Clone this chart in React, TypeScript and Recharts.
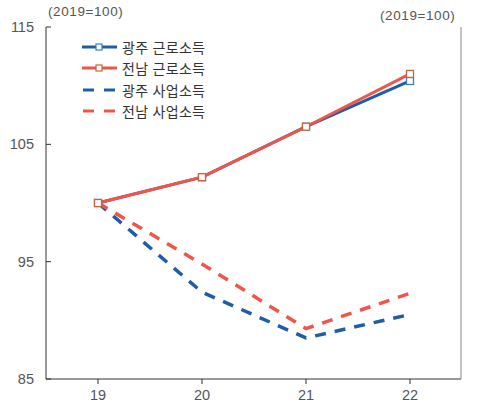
import { LineChart, Line, XAxis, YAxis } from 'recharts'

const years = ['19', '20', '21', '22']
const gjWage = [100, 102.2, 106.5, 110.4]
const jnWage = [100, 102.2, 106.5, 111.0]
const gjBiz = [100, 92.4, 88.5, 90.5]
const jnBiz = [100, 94.8, 89.3, 92.3]
const yTicks = [85, 95, 105, 115]

const BLUE = '#1f5da6'
const RED = '#f0554a'
const FONT = '"Liberation Sans", "Noto Sans CJK KR", sans-serif'
const TICK = { fontSize: 14.5, fill: '#555', fontFamily: FONT }

const data = years.map((y, i) => ({
  year: y,
  gjWage: gjWage[i],
  jnWage: jnWage[i],
  gjBiz: gjBiz[i],
  jnBiz: jnBiz[i],
}))

const legendItems = [
  { key: 'gjWage', name: '광주 근로소득', color: BLUE, marker: '#3f7dc2', dashed: false },
  { key: 'jnWage', name: '전남 근로소득', color: RED, marker: '#c9653d', dashed: false },
  { key: 'gjBiz', name: '광주 사업소득', color: BLUE, marker: '', dashed: true },
  { key: 'jnBiz', name: '전남 사업소득', color: RED, marker: '', dashed: true },
]

function LegendBox() {
  return (
    <div style={{ position: 'absolute', left: 82, top: 36, fontFamily: FONT, fontSize: 14, color: '#333' }}>
      {legendItems.map((it) => (
        <div key={it.key} style={{ display: 'flex', alignItems: 'center', height: 21.5 }}>
          <svg width={38} height={10}>
            {it.dashed ? (
              <>
                <line x1={1} y1={5} x2={12} y2={5} stroke={it.color} strokeWidth={3} />
                <line x1={22} y1={5} x2={33} y2={5} stroke={it.color} strokeWidth={3} />
              </>
            ) : (
              <>
                <line x1={0} y1={5} x2={35} y2={5} stroke={it.color} strokeWidth={3} />
                <rect x={14} y={2} width={6} height={6} fill="#fff" stroke={it.marker} strokeWidth={1.2} />
              </>
            )}
          </svg>
          <span style={{ marginLeft: 2, letterSpacing: 0.3 }}>{it.name}</span>
        </div>
      ))}
    </div>
  )
}

const squareDot = (color: string) => (props: any) => {
  const { cx, cy, index } = props
  return <rect key={index} x={cx - 3.5} y={cy - 3.5} width={7} height={7} fill="#fff" stroke={color} strokeWidth={1.3} />
}

export default function App() {
  return (
    <div style={{ position: 'absolute', left: 0, top: 0, width: 498, height: 405, background: '#fff', fontFamily: FONT }}>
      <div style={{ position: 'absolute', left: 48, top: 4, fontSize: 13.5, letterSpacing: 0.6, color: '#555' }}>(2019=100)</div>
      <div style={{ position: 'absolute', left: 380, top: 8, fontSize: 13.5, letterSpacing: 0.6, color: '#555' }}>(2019=100)</div>
      <LineChart width={498} height={405} data={data} margin={{ top: 27, right: 0, bottom: 0, left: 0 }}>
        <XAxis
          dataKey="year"
          height={26}
          padding={{ left: 52, right: 51 }}
          tick={TICK}
          tickSize={5}
          tickMargin={6}
          axisLine={{ stroke: '#333' }}
          tickLine={{ stroke: '#333' }}
        />
        <YAxis
          yAxisId="l"
          orientation="left"
          width={46}
          domain={[85, 115]}
          ticks={yTicks}
          tick={TICK}
          tickSize={-5}
          tickMargin={17}
          axisLine={{ stroke: '#333' }}
          tickLine={{ stroke: '#333' }}
        />
        <YAxis
          yAxisId="r"
          orientation="right"
          width={37}
          domain={[85, 115]}
          ticks={yTicks}
          tick={TICK}
          tickSize={-5}
          tickMargin={17}
          axisLine={{ stroke: '#888' }}
          tickLine={{ stroke: '#888' }}
        />
        <Line yAxisId="l" dataKey="gjBiz" name="광주 사업소득" stroke={BLUE} strokeWidth={3.5} strokeDasharray="11 9" dot={false} isAnimationActive={false} />
        <Line yAxisId="l" dataKey="jnBiz" name="전남 사업소득" stroke={RED} strokeWidth={3.5} strokeDasharray="11 9" dot={false} isAnimationActive={false} />
        <Line yAxisId="l" dataKey="gjWage" name="광주 근로소득" stroke={BLUE} strokeWidth={3} dot={squareDot('#3f7dc2')} isAnimationActive={false} />
        <Line yAxisId="l" dataKey="jnWage" name="전남 근로소득" stroke={RED} strokeWidth={3} dot={squareDot('#c9653d')} isAnimationActive={false} />
      </LineChart>
      <LegendBox />
    </div>
  )
}
